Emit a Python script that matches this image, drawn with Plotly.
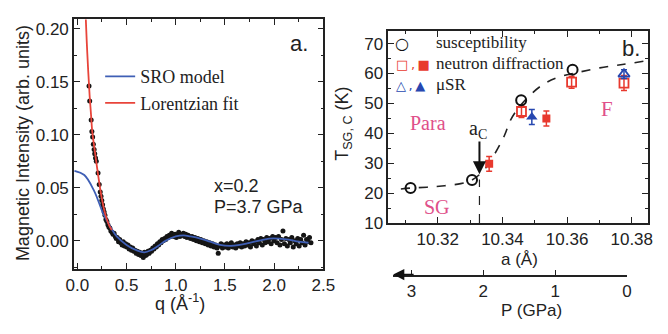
import plotly.graph_objects as go

# ---------------- Panel a data ----------------
q_pts = [0.118,0.125,0.140,0.147,0.155,0.162,0.170,0.176,0.184,0.192,0.210,0.222,0.232,0.240,0.248,0.256,0.264,0.272,0.280,0.290,
         0.300,0.310,0.320,0.330,0.340,0.352,0.362,0.373,0.385,0.395,0.405,0.418,0.430,0.442,0.455,0.466,0.478,0.490,0.502,0.514,
         0.526,0.538,0.550,0.562,0.574,0.586,0.598,0.610,0.622,0.634,0.646,0.658,0.670,0.682,0.694,0.706,0.718,0.730,0.742,0.754,
         0.766,0.778,0.790,0.802,0.814,0.826,0.838,0.850,0.862,0.874,0.886,0.898,0.910,0.922,0.934,0.946,0.958,0.970,0.982,0.994,
         1.006,1.018,1.030,1.042,1.054,1.066,1.078,1.090,1.102,1.114,1.126,1.138,1.150,1.165,1.180,1.195,1.210,1.225,1.240,1.255,
         1.270,1.285,1.300,1.315,1.330,1.345,1.360,1.375,1.390,1.405,1.420,1.432,1.445,1.460,1.475,1.490,1.505,1.520,1.535,1.550,
         1.565,1.580,1.595,1.610,1.625,1.640,1.655,1.670,1.685,1.700,1.715,1.730,1.745,1.760,1.775,1.790,1.805,1.820,1.835,1.850,
         1.865,1.880,1.895,1.910,1.925,1.940,1.955,1.970,1.985,2.000,2.015,2.030,2.045,2.060,2.075,2.090,2.105,2.120,2.135,2.150,
         2.165,2.180,2.195,2.210,2.225,2.240,2.255,2.270,2.285,2.300,2.315,2.330,2.345,2.360,2.375]
I_pts = [0.146,0.132,0.114,0.103,0.098,0.091,0.086,0.082,0.078,0.075,0.064,0.053,0.046,0.042,0.038,0.034,0.030,0.027,0.024,0.020,
         0.018,0.015,0.013,0.012,0.009,0.008,0.006,0.007,0.004,0.002,0.003,-0.001,0.001,-0.002,-0.004,-0.001,-0.005,-0.003,-0.006,-0.004,
         -0.008,-0.006,-0.009,-0.007,-0.010,-0.009,-0.012,-0.010,-0.013,-0.011,-0.014,-0.012,-0.016,-0.011,-0.014,-0.013,-0.010,-0.012,-0.009,-0.010,
         -0.007,-0.008,-0.005,-0.006,-0.003,-0.004,-0.001,-0.002,0.001,0.000,0.002,0.001,0.004,0.003,0.005,0.004,0.007,0.005,0.004,0.006,
         0.003,0.005,0.008,0.004,0.006,0.005,0.007,0.004,0.006,0.003,0.005,0.004,0.002,0.004,0.001,0.003,0.000,0.002,-0.001,0.001,
         -0.002,0.000,-0.003,-0.001,-0.004,-0.002,-0.005,-0.003,-0.006,-0.004,-0.007,-0.012,-0.005,-0.003,-0.007,-0.004,-0.006,-0.003,-0.007,-0.005,
         -0.002,-0.006,-0.004,-0.007,-0.003,-0.005,-0.002,-0.006,-0.003,-0.005,-0.001,-0.004,-0.002,-0.006,0.000,-0.003,-0.001,-0.005,0.001,-0.002,
         0.002,-0.004,0.001,-0.002,0.003,-0.001,0.002,-0.003,0.004,0.000,0.003,-0.002,0.004,-0.004,0.001,0.009,-0.003,0.002,-0.005,0.001,
         -0.002,0.003,-0.006,0.000,-0.003,0.002,-0.005,0.001,-0.002,0.005,-0.004,0.001,-0.001,0.003,-0.002]

q_lor = [0.083,0.095,0.110,0.125,0.140,0.150,0.175,0.200,0.225,0.250,0.275,0.300,0.325,0.350]
I_lor = [0.215,0.188,0.160,0.136,0.117,0.104,0.086,0.069,0.053,0.039,0.028,0.020,0.014,0.010]

q_sro = [-0.03,0.07,0.17,0.265,0.33,0.40,0.50,0.60,0.68,0.75,0.82,0.90,1.00,1.08,1.15,1.25,1.35,1.45,1.55,1.65,1.75,1.85,1.95,2.05,2.15,2.25,2.35]
I_sro = [0.066,0.062,0.047,0.025,0.014,0.004,-0.004,-0.009,-0.011,-0.009,-0.005,0.000,0.004,0.005,0.004,0.002,-0.001,-0.004,-0.005,-0.004,-0.002,0.000,0.002,0.002,0.001,-0.001,-0.002]

# ---------------- Panel b data ----------------
a_sus = [10.3116, 10.3306, 10.3458, 10.3617]
T_sus = [21.7, 24.4, 51.1, 61.3]

a_nd_open = [10.3459, 10.3614, 10.3776]
T_nd_open = [47.3, 57.1, 56.8]
e_nd_open = [2.0, 2.0, 2.5]

a_nd_fill = [10.3359, 10.3536]
T_nd_fill = [29.8, 45.0]
e_nd_fill = [2.5, 2.5]

a_mu_fill = [10.3491]
T_mu_fill = [45.5]
e_mu_fill = [2.5]

a_mu_open = [10.3776]
T_mu_open = [59.8]
e_mu_open = [1.5]

a_curve = [10.3086,10.3116,10.3191,10.3271,10.3306,10.3341,10.3371,10.3406,10.3426,10.3461,10.3521,10.3571,10.3631,10.3701,10.3771,10.3836]
T_curve = [21.4,21.7,22.2,23.2,24.4,27.5,32.2,39.2,44.6,50.0,56.0,58.7,60.3,61.9,63.0,64.1]

a_c = 10.3329
T_c_top = 24.6

P_ticks = [0, 1, 2, 3]

RED = "#e8392e"
BLUE = "#2747b0"
PINK = "#e0508a"
SANS = "Liberation Sans, Arial, sans-serif"
SERIF = "Liberation Serif, Times New Roman, serif"

fig = go.Figure()

# Panel a
fig.add_trace(go.Scatter(x=q_pts, y=I_pts, mode="markers", xaxis="x", yaxis="y",
                         marker=dict(size=5, color="#151515"), showlegend=False))
fig.add_trace(go.Scatter(x=q_sro, y=I_sro, mode="lines", xaxis="x", yaxis="y", name="SRO model",
                         line=dict(color="#3f5fb5", width=1.8, shape="spline"), legendrank=1))
fig.add_trace(go.Scatter(x=q_lor, y=I_lor, mode="lines", xaxis="x", yaxis="y", name="Lorentzian fit",
                         line=dict(color="#e8443a", width=1.8, shape="spline"), legendrank=2))

# Panel b
fig.add_trace(go.Scatter(x=a_curve, y=T_curve, mode="lines", xaxis="x2", yaxis="y2", showlegend=False,
                         line=dict(color="#222", width=1.6, dash="dash", shape="spline")))
fig.add_trace(go.Scatter(x=[a_c, a_c], y=[10, T_c_top], mode="lines", xaxis="x2", yaxis="y2", showlegend=False,
                         line=dict(color="#222", width=1.2, dash="dash")))
fig.add_trace(go.Scatter(x=a_nd_open, y=T_nd_open, mode="markers", xaxis="x2", yaxis="y2", showlegend=False,
                         error_y=dict(type="data", array=e_nd_open, color=RED, thickness=1.5, width=3),
                         marker=dict(symbol="square-open", size=9, color=RED, line=dict(width=1.8))))
fig.add_trace(go.Scatter(x=a_nd_fill, y=T_nd_fill, mode="markers", xaxis="x2", yaxis="y2", showlegend=False,
                         error_y=dict(type="data", array=e_nd_fill, color=RED, thickness=1.5, width=3),
                         marker=dict(symbol="square", size=8, color=RED)))
fig.add_trace(go.Scatter(x=a_mu_fill, y=T_mu_fill, mode="markers", xaxis="x2", yaxis="y2", showlegend=False,
                         error_y=dict(type="data", array=e_mu_fill, color=BLUE, thickness=1.5, width=3),
                         marker=dict(symbol="triangle-up", size=10, color=BLUE)))
fig.add_trace(go.Scatter(x=a_mu_open, y=T_mu_open, mode="markers", xaxis="x2", yaxis="y2", showlegend=False,
                         error_y=dict(type="data", array=e_mu_open, color=BLUE, thickness=1.5, width=3),
                         marker=dict(symbol="triangle-up-open", size=10, color=BLUE, line=dict(width=1.8))))
fig.add_trace(go.Scatter(x=a_sus, y=T_sus, mode="markers", xaxis="x2", yaxis="y2", showlegend=False,
                         marker=dict(symbol="circle-open", size=10, color="#111", line=dict(width=2))))

# Pressure axis carrier (invisible)
fig.add_trace(go.Scatter(x=P_ticks, y=[0]*len(P_ticks), mode="markers", xaxis="x3", yaxis="y3",
                         marker=dict(opacity=0), showlegend=False, hoverinfo="skip"))

tickfont = dict(family=SANS, size=17, color="#222")
common = dict(showgrid=False, zeroline=False, showline=True, linecolor="#222", linewidth=1.5,
              mirror="allticks", ticks="inside", ticklen=6, tickwidth=1.3, tickcolor="#222",
              tickfont=tickfont)

fig.update_layout(
    width=668, height=334, margin=dict(l=0, r=0, t=0, b=0),
    paper_bgcolor="white", plot_bgcolor="white",
    xaxis=dict(domain=[68/668, 325/668], range=[-0.035, 2.5], tickvals=[0, 0.5, 1.0, 1.5, 2.0, 2.5],
               ticktext=["0.0", "0.5", "1.0", "1.5", "2.0", "2.5"], anchor="y",
               minor=dict(dtick=0.25, tick0=0, ticks="inside", ticklen=3, tickcolor="#222"), **common),
    yaxis=dict(domain=[1-277/334, 1-20/334], range=[-0.0265, 0.209], tickvals=[0, 0.05, 0.10, 0.15, 0.20],
               ticktext=["0.00", "0.05", "0.10", "0.15", "0.20"], anchor="x",
               minor=dict(dtick=0.025, tick0=0, ticks="inside", ticklen=3, tickcolor="#222"), **common),
    xaxis2=dict(domain=[392/668, 660/668], range=[10.3047, 10.3851], tickvals=[10.32, 10.34, 10.36, 10.38],
                ticktext=["10.32", "10.34", "10.36", "10.38"], anchor="y2",
                minor=dict(dtick=0.01, tick0=10.30, ticks="inside", ticklen=3, tickcolor="#222"), **common),
    yaxis2=dict(domain=[1-230/334, 1-32/334], range=[10, 74.2], tickvals=[10, 20, 30, 40, 50, 60, 70], anchor="x2",
                minor=dict(dtick=5, tick0=0, ticks="inside", ticklen=3, tickcolor="#222"), **common),
    xaxis3=dict(domain=[397/668, 638/668], range=[3.257, 0], tickvals=P_ticks, anchor="y3",
                showgrid=False, zeroline=False, showline=True, linecolor="#222", linewidth=1.5,
                ticks="inside", ticklen=5, tickwidth=1.3, tickcolor="#222", tickfont=tickfont),
    yaxis3=dict(domain=[1-283/334, 1-280/334], visible=False, range=[0, 1], anchor="x3"),
    legend=dict(x=95/668, y=1-60/334, xanchor="left", yanchor="top", bgcolor="rgba(0,0,0,0)",
                font=dict(family=SERIF, size=18, color="#222"), tracegroupgap=0, itemwidth=30),
    showlegend=True,
)

ann = []
def A(text, x, y, size=16, family=SANS, color="#222", xref="paper", yref="paper", xanchor="center", angle=0, yanchor="middle"):
    ann.append(dict(text=text, x=x, y=y, xref=xref, yref=yref, showarrow=False, xanchor=xanchor, yanchor=yanchor,
                    textangle=angle, font=dict(family=family, size=size, color=color), borderpad=0))

# Panel a texts
A("Magnetic Intensity (arb. units)", 15/668, 1-148/334, size=18, angle=-90)
A("q (Å<sup>-1</sup>)", 177/668, 1-312/334, size=18)
A("a.", 300/668, 1-45/334, size=22)
A("x=0.2", 211/668, 1-192/334, size=18, xanchor="left")
A("P=3.7 GPa", 211/668, 1-213/334, size=18, xanchor="left")

# Panel b texts
A("T<sub>SG, C</sub> (K)", 346/668, 1-128/334, size=18, angle=-90)
A("a (Å)", 527/668, 1-267/334, size=17)
A("P (GPa)", 540/668, 1-320/334, size=17)
A("b.", 10.3797, 68.3, size=22, xref="x2", yref="y2")
A("Para", 10.3171, 43.4, size=20, family=SERIF, color=PINK, xref="x2", yref="y2")
A("F", 10.3722, 48.3, size=21, family=SERIF, color=PINK, xref="x2", yref="y2")
A("SG", 10.3197, 15.3, size=20, family=SERIF, color=PINK, xref="x2", yref="y2")
A("a<sub>C</sub>", 10.3326, 41.2, size=20, family=SERIF, xref="x2", yref="y2")

# Panel b legend texts
A("<b>○</b>", 398/668, 1-45/334, size=16, family="DejaVu Sans", color="#111", xanchor="left")
A("susceptibility", 440/668, 1-44/334, size=17, family=SERIF, xanchor="left")
A('<span style="color:%s">□\u2009,\u2009■</span>' % RED, 399/668, 1-66/334, size=13, family="DejaVu Sans", xanchor="left")
A("neutron diffraction", 440/668, 1-65/334, size=17, family=SERIF, xanchor="left")
A('<span style="color:%s">△\u2009,\u2009▲</span>' % BLUE, 399/668, 1-88/334, size=13, family="DejaVu Sans", xanchor="left")
A("μSR", 440/668, 1-87/334, size=17, family=SERIF, xanchor="left")

# a_c arrow
ann.append(dict(x=a_c, y=26.3, ax=a_c, ay=37.8, xref="x2", yref="y2", axref="x2", ayref="y2",
                showarrow=True, arrowhead=2, arrowsize=1.3, arrowwidth=2, arrowcolor="#111", text=""))
# Pressure axis arrowhead
ann.append(dict(x=397/668, y=1-283/334, xref="paper", yref="paper", ax=22, ay=0,
                showarrow=True, arrowhead=2, arrowsize=1.4, arrowwidth=1.6, arrowcolor="#111", text=""))

fig.update_layout(annotations=ann)
fig.write_html("out.html")
